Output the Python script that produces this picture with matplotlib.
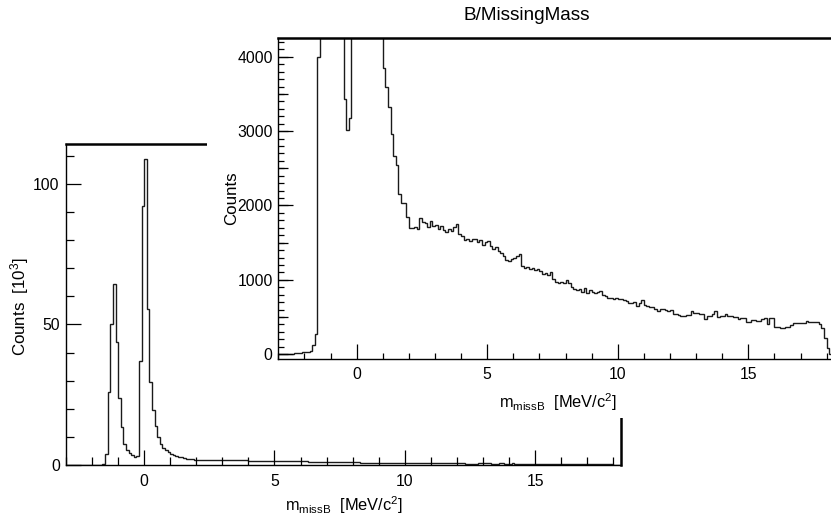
import matplotlib
matplotlib.use('Agg')
import matplotlib.pyplot as plt
from matplotlib.ticker import MultipleLocator, NullFormatter
import numpy as np

plt.rcParams['font.family'] = ['Liberation Sans', 'DejaVu Sans']
plt.rcParams['mathtext.default'] = 'regular'

# B/MissingMass histogram, 0.1 MeV/c^2 bins from -3.0 to 18.3
hist_lo = -3.0
hist_hi = 18.3

# bins -3.0 .. 0.9
counts_low = [3, 4, 4, 5, 6, 8, 10, 14, 20, 25,
              30, 35, 45, 121, 269, 4000, 26000, 50300, 64400, 43700,
              23700, 13500, 7500, 5200, 4400, 3430, 3015, 3180, 37000, 92000,
              108900, 55500, 29500, 19700, 13900, 9800, 7500, 6000, 5200, 4500]
# bins 1.0 .. 9.9
counts_mid = [3850, 3590, 3330, 2960, 2670, 2540, 2160, 2040, 2030, 1850,
              1700, 1700, 1715, 1680, 1835, 1780, 1760, 1715, 1795, 1720,
              1735, 1690, 1720, 1670, 1645, 1690, 1660, 1715, 1750, 1615,
              1590, 1535, 1555, 1525, 1545, 1555, 1510, 1535, 1465, 1510,
              1525, 1455, 1420, 1445, 1390, 1365, 1320, 1265, 1255, 1285,
              1300, 1320, 1345, 1185, 1165, 1175, 1140, 1153, 1130, 1139,
              1121, 1077, 1094, 1063, 1108, 1005, 973, 951, 973, 962,
              996, 960, 906, 875, 861, 870, 839, 884, 825, 861,
              839, 817, 839, 852, 794, 781, 749, 749, 736, 749]
# bins 10.0 .. 18.2
counts_high = [736, 740, 727, 718, 691, 682, 704, 646, 682, 727,
               659, 646, 628, 637, 601, 583, 614, 601, 592, 583,
               592, 538, 547, 525, 516, 516, 525, 525, 583, 560,
               560, 547, 547, 471, 516, 516, 538, 578, 494, 516,
               516, 547, 512, 512, 494, 494, 467, 480, 480, 435,
               435, 458, 458, 449, 449, 467, 480, 404, 480, 480,
               368, 368, 346, 346, 368, 368, 390, 413, 413, 413,
               422, 422, 444, 431, 431, 426, 426, 404, 346, 211,
               77, 0, 0]

counts = np.array(counts_low + counts_mid + counts_high, dtype=float)
edges = np.linspace(hist_lo, hist_hi, len(counts) + 1)

xtitle = 'm$_{missB}$  [MeV/c$^{2}$]'
hcol = '#1a1a1a'
W, H = 831, 518
title_fs = 11.8

fig = plt.figure(figsize=(W / 100, H / 100), dpi=100)

def px(x0, y0, x1, y1):
    # pixel box -> figure fraction rect
    return [x0 / W, 1 - y1 / H, (x1 - x0) / W, (y1 - y0) / H]

# ---- main pad ----
ax = fig.add_axes(px(66, 144, 621, 465), zorder=0)
ax.stairs(counts / 1000.0, edges, color=hcol, lw=1.0)
ax.set_xlim(hist_lo, hist_hi)
ax.set_ylim(0, 114.2)
ax.xaxis.set_major_locator(MultipleLocator(5))
ax.xaxis.set_minor_locator(MultipleLocator(1))
ax.yaxis.set_major_locator(MultipleLocator(50))
ax.yaxis.set_minor_locator(MultipleLocator(10))
ax.tick_params(which='both', direction='in', top=False, right=False, width=0.9)
ax.tick_params(which='major', length=11, labelsize=11.3)
ax.tick_params(which='minor', length=5.5)
ax.tick_params(axis='x', pad=6.5)
ax.tick_params(axis='y', pad=4.5)
for s in ax.spines.values():
    s.set_linewidth(1.0)
ax.spines['top'].set_linewidth(1.8)
ax.spines['right'].set_linewidth(1.8)

fig.text(403 / W, 1 - 505 / H, xtitle, ha='right', va='center', fontsize=title_fs)
fig.text(20 / W, 1 - 307 / H, 'Counts  [10$^{3}$]', ha='center', va='center',
         rotation=90, fontsize=12.2)

# ---- inset pad (white background hides main pad) ----
bg = fig.add_axes(px(207, 0, 831, 418), zorder=1)
bg.set_facecolor('white')
bg.set_axis_off()
bg.add_patch(plt.Rectangle((0, 0), 1, 1, transform=bg.transAxes,
                           facecolor='white', edgecolor='none'))

ins = fig.add_axes(px(278.3, 37.7, 834.5, 359), zorder=2)
ins.stairs(counts, edges, color=hcol, lw=1.0)
ins.set_xlim(hist_lo, hist_hi)
ins.set_ylim(-65, 4257)
ins.xaxis.set_major_locator(MultipleLocator(5))
ins.xaxis.set_minor_locator(MultipleLocator(1))
ins.yaxis.set_major_locator(MultipleLocator(1000))
ins.yaxis.set_minor_locator(MultipleLocator(100))
ins.tick_params(which='both', direction='in', top=False, right=False, width=0.9)
ins.tick_params(which='major', length=11, labelsize=11.3)
ins.tick_params(which='minor', length=4)
ins.tick_params(axis='x', pad=6.0)
ins.tick_params(axis='y', pad=4.0)
ins.spines['right'].set_visible(False)
for s in ins.spines.values():
    s.set_linewidth(1.0)
ins.spines['top'].set_linewidth(1.8)

# medium ticks every 500 on the inset y axis
sec = ins.secondary_yaxis('left')
sec.yaxis.set_major_locator(MultipleLocator(500))
sec.yaxis.set_major_formatter(NullFormatter())
sec.tick_params(direction='in', length=7, width=0.9)
sec.spines['left'].set_visible(False)

fig.text(617 / W, 1 - 402 / H, xtitle, ha='right', va='center', fontsize=title_fs)
fig.text(232 / W, 1 - 198 / H, 'Counts', ha='center', va='center',
         rotation=90, fontsize=12.2)

fig.text(527 / W, 1 - 16 / H, 'B/MissingMass', ha='center', va='center',
         fontsize=13.7)

fig.savefig('out.png', dpi=100)
